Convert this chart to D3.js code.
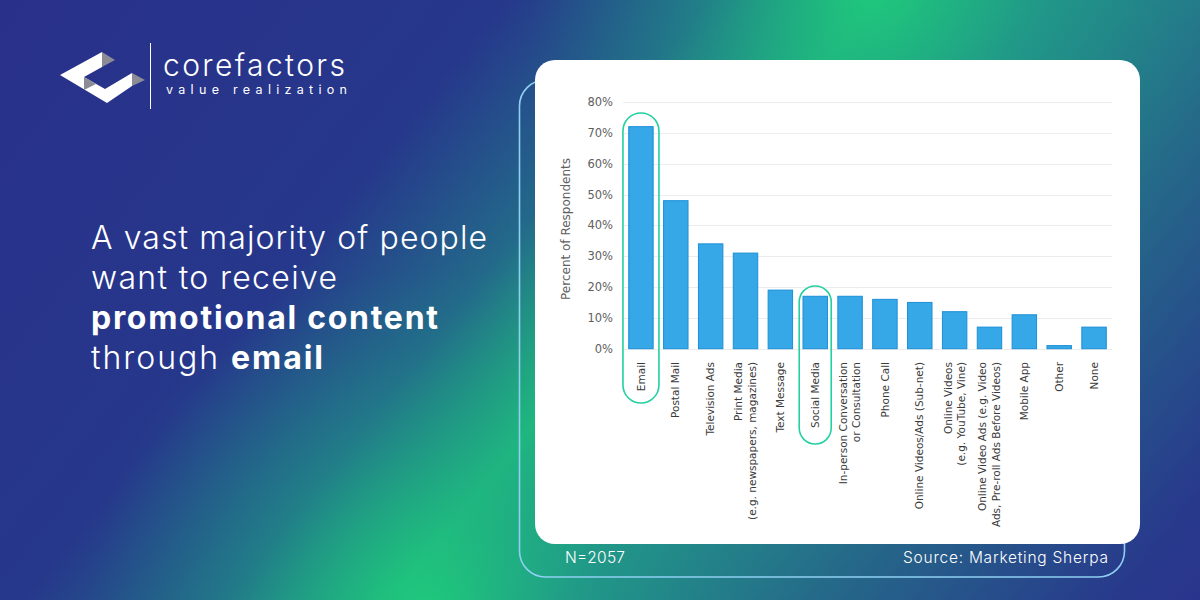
<!DOCTYPE html>
<html>
<head>
<meta charset="utf-8">
<script src="https://cdn.jsdelivr.net/npm/d3@7"></script>
<style>
  html, body { margin: 0; padding: 0; background: #26328a; }
  svg { display: block; }
</style>
</head>
<body>
<svg id="chart" width="1200" height="600"></svg>
<script>
// ---------- DATA ----------
const categories = [
  "Email",
  "Postal Mail",
  "Television Ads",
  "Print Media\n(e.g. newspapers, magazines)",
  "Text Message",
  "Social Media",
  "In-person Conversation\nor Consultation",
  "Phone Call",
  "Online Videos/Ads (Sub-net)",
  "Online Videos\n(e.g. YouTube, Vine)",
  "Online Video Ads (e.g. Video\nAds, Pre-roll Ads Before Videos)",
  "Mobile App",
  "Other",
  "None"
];
const percentValues = [72, 48, 34, 31, 19, 17, 17, 16, 15, 12, 7, 11, 1, 7];
const yTicks = [0, 10, 20, 30, 40, 50, 60, 70, 80];
const highlighted = ["Email", "Social Media"];
const headlineLines = [
  [{t: "A vast majority of people", b: false}],
  [{t: "want to receive", b: false}],
  [{t: "promotional content", b: true}],
  [{t: "through ", b: false}, {t: "email", b: true}]
];
const headlineWidths = [396, 246, 347, 232];
const yAxisTitle = "Percent of Respondents";
const sampleNote = "N=2057";
const sourceNote = "Source: Marketing Sherpa";
const brandName = "corefactors";
const brandTag = "value realization";

// ---------- SETUP ----------
const svg = d3.select("#chart");
const defs = svg.append("defs");

const lg = defs.append("linearGradient").attr("id", "bgLin")
  .attr("gradientUnits", "userSpaceOnUse")
  .attr("x1", 346).attr("y1", -429).attr("x2", 1367).attr("y2", 391);
[[0, "#29308a"], [0.30, "#26388b"], [0.42, "#236a8a"], [0.52, "#1fc87c"],
 [0.62, "#22978a"], [0.78, "#256789"], [0.95, "#28398c"], [1, "#29358c"]]
  .forEach(([o, c]) => lg.append("stop").attr("offset", o).attr("stop-color", c));

function blob(id, cx, cy, r, op) {
  const g = defs.append("radialGradient").attr("id", id)
    .attr("gradientUnits", "userSpaceOnUse")
    .attr("cx", cx).attr("cy", cy).attr("r", r);
  g.append("stop").attr("offset", 0).attr("stop-color", "#1fcb7b").attr("stop-opacity", op);
  g.append("stop").attr("offset", 0.5).attr("stop-color", "#1f9a86").attr("stop-opacity", op * 0.5);
  g.append("stop").attr("offset", 1).attr("stop-color", "#1f7a86").attr("stop-opacity", 0);
}
blob("blobTop", 870, -20, 340, 0.9);
blob("blobBot", 430, 610, 340, 0.85);

svg.append("rect").attr("width", 1200).attr("height", 600).attr("fill", "url(#bgLin)");
svg.append("rect").attr("width", 1200).attr("height", 600).attr("fill", "url(#blobTop)");
svg.append("rect").attr("width", 1200).attr("height", 600).attr("fill", "url(#blobBot)");

// ---------- LOGO ----------
const logo = svg.append("g");
logo.append("polygon")
  .attr("points", "60,75 102,52 102,67 84,77 105,89 132,73 132,86 107,103")
  .attr("fill", "#ffffff");
logo.append("polygon").attr("points", "102,52 115,60 102,67").attr("fill", "#8c8c96");
logo.append("polygon").attr("points", "132,73 145,80 132,86").attr("fill", "#8c8c96");
logo.append("polygon").attr("points", "84,77 96,84 84,90").attr("fill", "#8c8c96");
logo.append("line").attr("x1", 150.5).attr("x2", 150.5).attr("y1", 43).attr("y2", 109)
  .attr("stroke", "#ffffff").attr("stroke-width", 1);
logo.append("text").attr("x", 163).attr("y", 76)
  .attr("font-family", "Inter, 'Open Sans', sans-serif").attr("font-weight", 300)
  .attr("font-size", 30).attr("fill", "#ffffff")
  .attr("textLength", 182).attr("lengthAdjust", "spacing").text(brandName);
logo.append("text").attr("x", 166).attr("y", 94)
  .attr("font-family", "Inter, 'Open Sans', sans-serif").attr("font-weight", 400)
  .attr("font-size", 12.5).attr("fill", "#ffffff")
  .attr("textLength", 181).attr("lengthAdjust", "spacing").text(brandTag);

// ---------- HEADLINE ----------
headlineLines.forEach((line, i) => {
  const t = svg.append("text")
    .attr("x", 91).attr("y", 249 + i * 40)
    .attr("font-family", "Inter, 'Open Sans', sans-serif")
    .attr("font-size", 32).attr("fill", "#ffffff")
    .attr("xml:space", "preserve")
    .attr("textLength", headlineWidths[i]).attr("lengthAdjust", "spacing");
  line.forEach(seg => {
    t.append("tspan").text(seg.t).attr("font-weight", seg.b ? 700 : 350);
  });
});

// ---------- FRAME + CARD ----------
svg.append("rect").attr("x", 519.5).attr("y", 80).attr("width", 605).attr("height", 497)
  .attr("rx", 26).attr("fill", "none").attr("stroke", "#8fd0f2").attr("stroke-width", 1.6);
svg.append("rect").attr("x", 535).attr("y", 60).attr("width", 605).attr("height", 484)
  .attr("rx", 20).attr("fill", "#ffffff");

// ---------- CHART ----------
const x = d3.scaleBand().domain(categories).range([623, 1112])
  .paddingInner(0.27).paddingOuter(0.15);
const y = d3.scaleLinear().domain([0, 80]).range([348.7, 102]);

const chart = svg.append("g");
const labelFont = "'DejaVu Sans', Verdana, sans-serif";

chart.append("g").selectAll("line").data(yTicks).join("line")
  .attr("x1", 623).attr("x2", 1112)
  .attr("y1", d => Math.round(y(d)) + 0.5).attr("y2", d => Math.round(y(d)) + 0.5)
  .attr("stroke", "#ececec").attr("stroke-width", 1);

chart.append("g").selectAll("text").data(yTicks).join("text")
  .attr("x", 613).attr("y", d => y(d)).attr("dy", "0.36em")
  .attr("text-anchor", "end").attr("font-family", labelFont)
  .attr("font-size", 11.5).attr("fill", "#606060")
  .text(d => d + "%");

chart.append("text")
  .attr("transform", "translate(566,229) rotate(-90)")
  .attr("text-anchor", "middle").attr("dy", "0.35em")
  .attr("font-family", labelFont).attr("font-size", 12).attr("fill", "#606060")
  .text(yAxisTitle);

chart.append("g").selectAll("rect").data(categories).join("rect")
  .attr("x", d => x(d) + 0.5)
  .attr("y", (d, i) => y(percentValues[i]))
  .attr("width", x.bandwidth() - 1)
  .attr("height", (d, i) => y(0) - y(percentValues[i]))
  .attr("fill", "#36a8e7").attr("stroke", "#1b8fd6").attr("stroke-width", 1);

const xl = chart.append("g").selectAll("text").data(categories).join("text")
  .attr("transform", d => `translate(${x(d) + x.bandwidth() / 2},362) rotate(-90)`)
  .attr("text-anchor", "end").attr("font-family", labelFont)
  .attr("font-size", 10.5).attr("fill", "#3a3a3a");
xl.each(function(d) {
  const lines = d.split("\n");
  const t = d3.select(this);
  lines.forEach((ln, i) => {
    t.append("tspan").attr("x", 0)
      .attr("y", (i - (lines.length - 1) / 2) * 13.5)
      .attr("dy", "0.35em").text(ln);
  });
});

// highlight pills
const pillBottom = {"Email": 403, "Social Media": 444};
const pillTop = {"Email": 113, "Social Media": 286};
chart.append("g").selectAll("rect").data(highlighted).join("rect")
  .attr("x", d => x(d) + x.bandwidth() / 2 - (d === "Email" ? 18 : 16))
  .attr("width", d => d === "Email" ? 36 : 32)
  .attr("y", d => pillTop[d])
  .attr("height", d => pillBottom[d] - pillTop[d])
  .attr("rx", d => d === "Email" ? 18 : 16)
  .attr("fill", "none").attr("stroke", "#22d0a0").attr("stroke-width", 1.6);

// ---------- FOOTER ----------
svg.append("text").attr("x", 565).attr("y", 563)
  .attr("font-family", "Inter, 'Open Sans', sans-serif").attr("font-weight", 300)
  .attr("font-size", 15.5).attr("fill", "#ffffff")
  .attr("textLength", 60).attr("lengthAdjust", "spacing").text(sampleNote);
svg.append("text").attr("x", 903).attr("y", 563)
  .attr("font-family", "Inter, 'Open Sans', sans-serif").attr("font-weight", 300)
  .attr("font-size", 15.5).attr("fill", "#ffffff")
  .attr("textLength", 205).attr("lengthAdjust", "spacing").text(sourceNote);
</script>
</body>
</html>
